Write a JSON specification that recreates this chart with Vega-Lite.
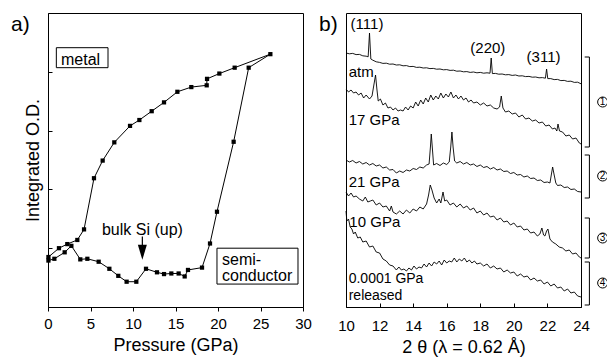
{
  "$schema": "https://vega.github.io/schema/vega-lite/v6.json",
  "padding": {"left": 10, "top": 12, "right": 0, "bottom": 0},
  "bounds": "flush",
  "spacing": 43,
  "config": {
    "font": "Liberation Sans",
    "view": {"stroke": "#000", "strokeWidth": 1},
    "axis": {"grid": false, "labelFlush": false, "domainColor": "#000", "tickColor": "#000", "labelColor": "#000", "titleColor": "#000", "labelFontSize": 15, "titleFontSize": 18, "titleFontWeight": "normal", "labelFont": "Liberation Sans", "titleFont": "Liberation Sans"},
    "text": {"font": "Liberation Sans", "color": "#000"}
  },
  "datasets": {
    "pa": [
      {"i":1,"x":0.05,"y":0.79},{"i":2,"x":0.75,"y":0.82},{"i":3,"x":1.96,"y":0.93},{"i":4,"x":2.75,"y":1.04},{"i":5,"x":3.80,"y":0.81},{"i":6,"x":4.63,"y":0.82},{"i":7,"x":5.96,"y":0.77},{"i":8,"x":7.22,"y":0.65},{"i":9,"x":8.27,"y":0.53},{"i":10,"x":9.25,"y":0.43},{"i":11,"x":10.39,"y":0.43},{"i":12,"x":11.53,"y":0.65},{"i":13,"x":12.82,"y":0.59},{"i":14,"x":13.65,"y":0.56},{"i":15,"x":14.51,"y":0.57},{"i":16,"x":15.37,"y":0.57},{"i":17,"x":16.08,"y":0.52},{"i":18,"x":16.47,"y":0.63},{"i":19,"x":18.12,"y":0.67},{"i":20,"x":19.06,"y":1.08},{"i":21,"x":19.88,"y":1.62},{"i":22,"x":21.84,"y":2.81},{"i":23,"x":23.61,"y":4.07},{"i":24,"x":26.16,"y":4.30},
      {"i":25,"x":21.96,"y":4.07},{"i":26,"x":20.16,"y":3.97},{"i":27,"x":18.71,"y":3.88},{"i":28,"x":18.67,"y":3.77},{"i":29,"x":16.86,"y":3.74},{"i":30,"x":15.22,"y":3.66},{"i":31,"x":13.65,"y":3.48},{"i":32,"x":12.20,"y":3.33},{"i":33,"x":10.75,"y":3.18},{"i":34,"x":9.65,"y":3.08},{"i":35,"x":7.80,"y":2.80},{"i":36,"x":6.43,"y":2.49},{"i":37,"x":5.41,"y":2.19},{"i":38,"x":4.24,"y":1.32},{"i":39,"x":3.45,"y":1.14},{"i":40,"x":2.27,"y":1.07},{"i":41,"x":1.29,"y":1.00},{"i":42,"x":0.05,"y":0.85}
    ],
    "pa_txt": [
      {"x":1.53,"y":4.12,"label":"metal"},
      {"x":6.35,"y":1.23,"label":"bulk Si (up)"},
      {"x":20.47,"y":0.706,"label":"semi-\nconductor"}
    ],
    "pa_box": [
      {"x":0.98,"x2":7.06,"y":4.41,"y2":4.07},
      {"x":19.88,"x2":29.41,"y":1.0,"y2":0.39}
    ],
    "pa_lab": [{"x":-4.35,"y":4.69,"label":"a)"}],
    "pa_arrow": [{"x":11.1,"y":1.20,"y2":0.98}],
    "pa_head": [{"x":11.1,"y":0.93}],
    "pb": [
      {"s":"atm","x":10.0,"y":254.0},{"s":"atm","x":10.2,"y":253.2},{"s":"atm","x":10.4,"y":253.6},{"s":"atm","x":10.6,"y":252.4},{"s":"atm","x":10.8,"y":252.6},{"s":"atm","x":11.0,"y":251.2},{"s":"atm","x":11.2,"y":250.8},{"s":"atm","x":11.32,"y":250.2},{"s":"atm","x":11.4,"y":274.0},{"s":"atm","x":11.48,"y":248.0},{"s":"atm","x":11.6,"y":246.8},{"s":"atm","x":11.8,"y":245.2},{"s":"atm","x":12.0,"y":244.6},{"s":"atm","x":12.2,"y":243.6},{"s":"atm","x":12.4,"y":243.8},{"s":"atm","x":12.6,"y":242.8},{"s":"atm","x":12.8,"y":243.0},{"s":"atm","x":13.0,"y":242.0},{"s":"atm","x":13.2,"y":242.2},{"s":"atm","x":13.4,"y":241.2},{"s":"atm","x":13.6,"y":241.4},{"s":"atm","x":13.8,"y":240.4},{"s":"atm","x":14.0,"y":240.6},{"s":"atm","x":14.2,"y":239.6},{"s":"atm","x":14.4,"y":239.8},{"s":"atm","x":14.6,"y":239.0},{"s":"atm","x":14.8,"y":239.2},{"s":"atm","x":15.0,"y":238.4},{"s":"atm","x":15.2,"y":238.6},{"s":"atm","x":15.4,"y":237.8},{"s":"atm","x":15.6,"y":238.0},{"s":"atm","x":15.8,"y":237.2},{"s":"atm","x":16.0,"y":237.4},{"s":"atm","x":16.2,"y":236.6},{"s":"atm","x":16.4,"y":236.8},{"s":"atm","x":16.6,"y":235.8},{"s":"atm","x":16.8,"y":236.0},{"s":"atm","x":17.0,"y":235.2},{"s":"atm","x":17.2,"y":235.4},{"s":"atm","x":17.4,"y":234.6},{"s":"atm","x":17.6,"y":235.0},{"s":"atm","x":17.8,"y":234.2},{"s":"atm","x":18.0,"y":234.6},{"s":"atm","x":18.2,"y":233.8},{"s":"atm","x":18.4,"y":234.2},{"s":"atm","x":18.58,"y":233.8},{"s":"atm","x":18.65,"y":249.0},{"s":"atm","x":18.72,"y":233.4},{"s":"atm","x":18.9,"y":233.6},{"s":"atm","x":19.1,"y":232.8},{"s":"atm","x":19.3,"y":233.0},{"s":"atm","x":19.5,"y":232.2},{"s":"atm","x":19.7,"y":232.4},{"s":"atm","x":19.9,"y":231.6},{"s":"atm","x":20.1,"y":232.0},{"s":"atm","x":20.3,"y":231.0},{"s":"atm","x":20.5,"y":231.2},{"s":"atm","x":20.7,"y":230.4},{"s":"atm","x":20.9,"y":230.6},{"s":"atm","x":21.1,"y":229.8},{"s":"atm","x":21.3,"y":230.0},{"s":"atm","x":21.5,"y":229.2},{"s":"atm","x":21.7,"y":229.4},{"s":"atm","x":21.88,"y":228.8},{"s":"atm","x":21.95,"y":238.0},{"s":"atm","x":22.02,"y":228.4},{"s":"atm","x":22.2,"y":228.4},{"s":"atm","x":22.4,"y":227.4},{"s":"atm","x":22.6,"y":227.6},{"s":"atm","x":22.8,"y":226.4},{"s":"atm","x":23.0,"y":226.6},{"s":"atm","x":23.2,"y":225.6},{"s":"atm","x":23.4,"y":225.8},{"s":"atm","x":23.6,"y":224.6},{"s":"atm","x":23.8,"y":224.8},{"s":"atm","x":24.0,"y":223.2},
      {"s":"p17","x":10.0,"y":218},{"s":"p17","x":10.15,"y":215},{"s":"p17","x":10.3,"y":217},{"s":"p17","x":10.45,"y":214},{"s":"p17","x":10.6,"y":215},{"s":"p17","x":10.75,"y":212},{"s":"p17","x":10.9,"y":214},{"s":"p17","x":11.05,"y":209},{"s":"p17","x":11.2,"y":212},{"s":"p17","x":11.4,"y":208},{"s":"p17","x":11.55,"y":211},{"s":"p17","x":11.68,"y":224},{"s":"p17","x":11.76,"y":232},{"s":"p17","x":11.84,"y":218},{"s":"p17","x":11.92,"y":206},{"s":"p17","x":12.05,"y":208},{"s":"p17","x":12.2,"y":202},{"s":"p17","x":12.35,"y":204},{"s":"p17","x":12.5,"y":199},{"s":"p17","x":12.65,"y":200},{"s":"p17","x":12.8,"y":197},{"s":"p17","x":12.95,"y":199},{"s":"p17","x":13.1,"y":196},{"s":"p17","x":13.25,"y":197},{"s":"p17","x":13.4,"y":196},{"s":"p17","x":13.55,"y":200},{"s":"p17","x":13.7,"y":197},{"s":"p17","x":13.85,"y":201},{"s":"p17","x":14.0,"y":199},{"s":"p17","x":14.15,"y":205},{"s":"p17","x":14.3,"y":201},{"s":"p17","x":14.45,"y":207},{"s":"p17","x":14.6,"y":203},{"s":"p17","x":14.75,"y":209},{"s":"p17","x":14.9,"y":205},{"s":"p17","x":15.05,"y":212},{"s":"p17","x":15.2,"y":207},{"s":"p17","x":15.35,"y":211},{"s":"p17","x":15.5,"y":208},{"s":"p17","x":15.65,"y":214},{"s":"p17","x":15.8,"y":209},{"s":"p17","x":15.95,"y":213},{"s":"p17","x":16.1,"y":210},{"s":"p17","x":16.25,"y":215},{"s":"p17","x":16.4,"y":209},{"s":"p17","x":16.55,"y":212},{"s":"p17","x":16.7,"y":208},{"s":"p17","x":16.85,"y":211},{"s":"p17","x":17.0,"y":207},{"s":"p17","x":17.15,"y":209},{"s":"p17","x":17.3,"y":205},{"s":"p17","x":17.45,"y":207},{"s":"p17","x":17.6,"y":204},{"s":"p17","x":17.8,"y":205},{"s":"p17","x":18.0,"y":202},{"s":"p17","x":18.2,"y":204},{"s":"p17","x":18.4,"y":201},{"s":"p17","x":18.6,"y":202},{"s":"p17","x":18.8,"y":199},{"s":"p17","x":19.0,"y":198},{"s":"p17","x":19.15,"y":200},{"s":"p17","x":19.25,"y":211},{"s":"p17","x":19.35,"y":199},{"s":"p17","x":19.5,"y":195},{"s":"p17","x":19.7,"y":196},{"s":"p17","x":19.9,"y":193},{"s":"p17","x":20.1,"y":194},{"s":"p17","x":20.3,"y":190},{"s":"p17","x":20.5,"y":192},{"s":"p17","x":20.7,"y":188},{"s":"p17","x":20.9,"y":189},{"s":"p17","x":21.1,"y":186},{"s":"p17","x":21.3,"y":187},{"s":"p17","x":21.5,"y":184},{"s":"p17","x":21.7,"y":185},{"s":"p17","x":21.9,"y":181},{"s":"p17","x":22.1,"y":182},{"s":"p17","x":22.3,"y":178},{"s":"p17","x":22.45,"y":179},{"s":"p17","x":22.56,"y":176},{"s":"p17","x":22.63,"y":183},{"s":"p17","x":22.72,"y":176},{"s":"p17","x":22.9,"y":175},{"s":"p17","x":23.1,"y":171},{"s":"p17","x":23.3,"y":172},{"s":"p17","x":23.5,"y":168},{"s":"p17","x":23.7,"y":169},{"s":"p17","x":23.9,"y":164},{"s":"p17","x":24.0,"y":163},
      {"s":"p21","x":10.0,"y":147},{"s":"p21","x":10.2,"y":145},{"s":"p21","x":10.4,"y":146.5},{"s":"p21","x":10.6,"y":144},{"s":"p21","x":10.8,"y":145.5},{"s":"p21","x":11.0,"y":143},{"s":"p21","x":11.2,"y":144.5},{"s":"p21","x":11.4,"y":142},{"s":"p21","x":11.6,"y":143.5},{"s":"p21","x":11.8,"y":141},{"s":"p21","x":12.0,"y":142},{"s":"p21","x":12.2,"y":139},{"s":"p21","x":12.4,"y":140},{"s":"p21","x":12.6,"y":137},{"s":"p21","x":12.8,"y":137.5},{"s":"p21","x":13.0,"y":134},{"s":"p21","x":13.2,"y":136},{"s":"p21","x":13.4,"y":134.5},{"s":"p21","x":13.6,"y":137},{"s":"p21","x":13.8,"y":136},{"s":"p21","x":14.0,"y":138.5},{"s":"p21","x":14.2,"y":137.5},{"s":"p21","x":14.4,"y":140},{"s":"p21","x":14.6,"y":139},{"s":"p21","x":14.8,"y":142},{"s":"p21","x":14.95,"y":143},{"s":"p21","x":15.03,"y":160},{"s":"p21","x":15.08,"y":173},{"s":"p21","x":15.14,"y":160},{"s":"p21","x":15.22,"y":142},{"s":"p21","x":15.4,"y":143.5},{"s":"p21","x":15.6,"y":141.5},{"s":"p21","x":15.8,"y":144},{"s":"p21","x":16.0,"y":142.5},{"s":"p21","x":16.15,"y":145},{"s":"p21","x":16.24,"y":160},{"s":"p21","x":16.31,"y":175},{"s":"p21","x":16.38,"y":160},{"s":"p21","x":16.47,"y":146},{"s":"p21","x":16.6,"y":144},{"s":"p21","x":16.8,"y":145.5},{"s":"p21","x":17.0,"y":143},{"s":"p21","x":17.2,"y":144.5},{"s":"p21","x":17.4,"y":142},{"s":"p21","x":17.6,"y":143},{"s":"p21","x":17.8,"y":140.5},{"s":"p21","x":18.0,"y":142},{"s":"p21","x":18.2,"y":139.5},{"s":"p21","x":18.4,"y":140.5},{"s":"p21","x":18.6,"y":138},{"s":"p21","x":18.8,"y":139.5},{"s":"p21","x":19.0,"y":137},{"s":"p21","x":19.2,"y":138},{"s":"p21","x":19.4,"y":135.5},{"s":"p21","x":19.6,"y":136},{"s":"p21","x":19.8,"y":133.5},{"s":"p21","x":20.0,"y":134.5},{"s":"p21","x":20.2,"y":132},{"s":"p21","x":20.4,"y":132.5},{"s":"p21","x":20.6,"y":130},{"s":"p21","x":20.8,"y":131},{"s":"p21","x":21.0,"y":128.5},{"s":"p21","x":21.2,"y":129},{"s":"p21","x":21.4,"y":126.5},{"s":"p21","x":21.6,"y":127},{"s":"p21","x":21.8,"y":124.5},{"s":"p21","x":22.0,"y":125},{"s":"p21","x":22.15,"y":124},{"s":"p21","x":22.23,"y":132},{"s":"p21","x":22.31,"y":140},{"s":"p21","x":22.39,"y":133},{"s":"p21","x":22.5,"y":124},{"s":"p21","x":22.6,"y":121.5},{"s":"p21","x":22.8,"y":122},{"s":"p21","x":23.0,"y":119.5},{"s":"p21","x":23.2,"y":120},{"s":"p21","x":23.4,"y":117.5},{"s":"p21","x":23.6,"y":118},{"s":"p21","x":23.8,"y":115.5},{"s":"p21","x":24.0,"y":115},
      {"s":"p10","x":10.0,"y":115},{"s":"p10","x":10.15,"y":111},{"s":"p10","x":10.3,"y":114},{"s":"p10","x":10.45,"y":110},{"s":"p10","x":10.6,"y":111},{"s":"p10","x":10.8,"y":108},{"s":"p10","x":11.0,"y":106},{"s":"p10","x":11.15,"y":110},{"s":"p10","x":11.3,"y":105},{"s":"p10","x":11.45,"y":106},{"s":"p10","x":11.6,"y":107},{"s":"p10","x":11.8,"y":102},{"s":"p10","x":12.0,"y":104},{"s":"p10","x":12.2,"y":100},{"s":"p10","x":12.4,"y":101},{"s":"p10","x":12.6,"y":96},{"s":"p10","x":12.7,"y":101},{"s":"p10","x":12.8,"y":95},{"s":"p10","x":13.0,"y":93},{"s":"p10","x":13.2,"y":96},{"s":"p10","x":13.4,"y":93},{"s":"p10","x":13.6,"y":97},{"s":"p10","x":13.8,"y":94},{"s":"p10","x":14.0,"y":98},{"s":"p10","x":14.2,"y":96},{"s":"p10","x":14.4,"y":100},{"s":"p10","x":14.6,"y":98},{"s":"p10","x":14.8,"y":103},{"s":"p10","x":14.92,"y":112},{"s":"p10","x":15.02,"y":122},{"s":"p10","x":15.12,"y":117},{"s":"p10","x":15.25,"y":109},{"s":"p10","x":15.4,"y":104},{"s":"p10","x":15.55,"y":108},{"s":"p10","x":15.65,"y":104},{"s":"p10","x":15.78,"y":115},{"s":"p10","x":15.88,"y":106},{"s":"p10","x":16.0,"y":107},{"s":"p10","x":16.2,"y":102},{"s":"p10","x":16.4,"y":104},{"s":"p10","x":16.6,"y":100},{"s":"p10","x":16.8,"y":103},{"s":"p10","x":17.0,"y":99},{"s":"p10","x":17.2,"y":101},{"s":"p10","x":17.4,"y":97},{"s":"p10","x":17.6,"y":99},{"s":"p10","x":17.8,"y":94},{"s":"p10","x":18.0,"y":96},{"s":"p10","x":18.2,"y":92},{"s":"p10","x":18.4,"y":94},{"s":"p10","x":18.6,"y":90},{"s":"p10","x":18.8,"y":91},{"s":"p10","x":19.0,"y":87},{"s":"p10","x":19.2,"y":89},{"s":"p10","x":19.4,"y":85},{"s":"p10","x":19.6,"y":86},{"s":"p10","x":19.8,"y":82},{"s":"p10","x":20.0,"y":84},{"s":"p10","x":20.2,"y":80},{"s":"p10","x":20.4,"y":81},{"s":"p10","x":20.6,"y":77},{"s":"p10","x":20.8,"y":78},{"s":"p10","x":21.0,"y":74},{"s":"p10","x":21.2,"y":75},{"s":"p10","x":21.4,"y":71},{"s":"p10","x":21.55,"y":73},{"s":"p10","x":21.67,"y":79},{"s":"p10","x":21.77,"y":72},{"s":"p10","x":21.85,"y":71},{"s":"p10","x":21.95,"y":76},{"s":"p10","x":22.03,"y":78},{"s":"p10","x":22.15,"y":68},{"s":"p10","x":22.3,"y":65},{"s":"p10","x":22.5,"y":63},{"s":"p10","x":22.7,"y":60},{"s":"p10","x":22.9,"y":59},{"s":"p10","x":23.1,"y":56},{"s":"p10","x":23.3,"y":57},{"s":"p10","x":23.5,"y":53},{"s":"p10","x":23.7,"y":54},{"s":"p10","x":23.9,"y":50},{"s":"p10","x":24.0,"y":49},
      {"s":"rel","x":10.0,"y":96},{"s":"rel","x":10.05,"y":86},{"s":"rel","x":10.15,"y":88},{"s":"rel","x":10.25,"y":80},{"s":"rel","x":10.35,"y":78},{"s":"rel","x":10.45,"y":73},{"s":"rel","x":10.55,"y":75},{"s":"rel","x":10.7,"y":69},{"s":"rel","x":10.85,"y":70},{"s":"rel","x":11.0,"y":65},{"s":"rel","x":11.2,"y":66},{"s":"rel","x":11.4,"y":60},{"s":"rel","x":11.6,"y":61},{"s":"rel","x":11.8,"y":55},{"s":"rel","x":12.0,"y":54},{"s":"rel","x":12.2,"y":48},{"s":"rel","x":12.4,"y":46},{"s":"rel","x":12.6,"y":42},{"s":"rel","x":12.8,"y":41},{"s":"rel","x":13.0,"y":37},{"s":"rel","x":13.15,"y":40},{"s":"rel","x":13.3,"y":37},{"s":"rel","x":13.45,"y":38},{"s":"rel","x":13.6,"y":36},{"s":"rel","x":13.75,"y":39},{"s":"rel","x":13.9,"y":37},{"s":"rel","x":14.05,"y":41},{"s":"rel","x":14.2,"y":38},{"s":"rel","x":14.35,"y":40},{"s":"rel","x":14.5,"y":39},{"s":"rel","x":14.65,"y":43},{"s":"rel","x":14.8,"y":40},{"s":"rel","x":14.95,"y":44},{"s":"rel","x":15.1,"y":41},{"s":"rel","x":15.25,"y":45},{"s":"rel","x":15.4,"y":43},{"s":"rel","x":15.55,"y":46},{"s":"rel","x":15.7,"y":42},{"s":"rel","x":15.85,"y":47},{"s":"rel","x":16.0,"y":44},{"s":"rel","x":16.15,"y":46},{"s":"rel","x":16.3,"y":45},{"s":"rel","x":16.45,"y":49},{"s":"rel","x":16.6,"y":45},{"s":"rel","x":16.75,"y":48},{"s":"rel","x":16.9,"y":46},{"s":"rel","x":17.05,"y":49},{"s":"rel","x":17.2,"y":45},{"s":"rel","x":17.35,"y":47},{"s":"rel","x":17.5,"y":44},{"s":"rel","x":17.65,"y":46},{"s":"rel","x":17.8,"y":43},{"s":"rel","x":18.0,"y":44},{"s":"rel","x":18.2,"y":41},{"s":"rel","x":18.4,"y":43},{"s":"rel","x":18.6,"y":39},{"s":"rel","x":18.8,"y":41},{"s":"rel","x":19.0,"y":38},{"s":"rel","x":19.2,"y":39},{"s":"rel","x":19.4,"y":35},{"s":"rel","x":19.6,"y":37},{"s":"rel","x":19.8,"y":34},{"s":"rel","x":20.0,"y":35},{"s":"rel","x":20.2,"y":31},{"s":"rel","x":20.4,"y":33},{"s":"rel","x":20.6,"y":30},{"s":"rel","x":20.8,"y":31},{"s":"rel","x":21.0,"y":27},{"s":"rel","x":21.2,"y":29},{"s":"rel","x":21.4,"y":26},{"s":"rel","x":21.6,"y":27},{"s":"rel","x":21.8,"y":23},{"s":"rel","x":22.0,"y":25},{"s":"rel","x":22.2,"y":21},{"s":"rel","x":22.4,"y":23},{"s":"rel","x":22.6,"y":19},{"s":"rel","x":22.8,"y":20},{"s":"rel","x":23.0,"y":16},{"s":"rel","x":23.2,"y":18},{"s":"rel","x":23.4,"y":14},{"s":"rel","x":23.6,"y":15},{"s":"rel","x":23.8,"y":11},{"s":"rel","x":24.0,"y":10}
    ],
    "pb_txt": [
      {"x":10.16,"y":230,"label":"atm"},
      {"x":10.16,"y":182,"label":"17 GPa"},
      {"x":10.16,"y":120,"label":"21 GPa"},
      {"x":10.2,"y":80,"label":"10 GPa"}
    ],
    "pb_rel": [
      {"x":10.16,"y":24,"label":"0.0001 GPa\nreleased"}
    ],
    "pb_hkl": [
      {"x":11.25,"y":278,"label":"(111)"},
      {"x":18.45,"y":254.5,"label":"(220)"},
      {"x":21.77,"y":245,"label":"(311)"}
    ],
    "pb_lab": [{"x":8.39,"y":276,"label":"b)"}],
    "pb_br": [
      {"x":24.5,"x2":24.5,"y":250,"y2":160},{"x":24.22,"x2":24.5,"y":250,"y2":250},{"x":24.22,"x2":24.5,"y":160,"y2":160},
      {"x":24.5,"x2":24.5,"y":152,"y2":109},{"x":24.22,"x2":24.5,"y":152,"y2":152},{"x":24.22,"x2":24.5,"y":109,"y2":109},
      {"x":24.5,"x2":24.5,"y":89,"y2":49},{"x":24.22,"x2":24.5,"y":89,"y2":89},{"x":24.22,"x2":24.5,"y":49,"y2":49},
      {"x":24.5,"x2":24.5,"y":45,"y2":2},{"x":24.22,"x2":24.5,"y":45,"y2":45},{"x":24.22,"x2":24.5,"y":2,"y2":2}
    ],
    "pb_circ": [
      {"x":25.29,"y":205,"label":"1"},
      {"x":25.29,"y":131,"label":"2"},
      {"x":25.29,"y":69,"label":"3"},
      {"x":25.29,"y":24,"label":"4"}
    ]
  },
  "hconcat": [
    {
      "width": 255,
      "height": 294,
      "encoding": {
        "x": {"field": "x", "type": "quantitative", "scale": {"domain": [0, 30], "nice": false, "zero": false},
              "axis": {"values": [0, 5, 10, 15, 20, 25, 30], "tickSize": 4, "labelPadding": 5, "title": "Pressure (GPa)", "titlePadding": 5}},
        "y": {"field": "y", "type": "quantitative", "scale": {"domain": [0, 5], "nice": false, "zero": false},
              "axis": {"values": [1, 2, 3, 4], "tickSize": -4, "labels": false, "title": "Integrated O.D.", "titlePadding": 5}}
      },
      "layer": [
        {"data": {"name": "pa"}, "mark": {"type": "line", "color": "#000", "strokeWidth": 1}, "encoding": {"order": {"field": "i", "type": "quantitative"}}},
        {"data": {"name": "pa"}, "mark": {"type": "point", "shape": "square", "filled": true, "color": "#000", "size": 18, "opacity": 1}, "encoding": {}},
        {"data": {"name": "pa_box"}, "mark": {"type": "rect", "fill": "#fff", "stroke": "#000", "strokeWidth": 1}, "encoding": {"x2": {"field": "x2"}, "y2": {"field": "y2"}}},
        {"data": {"name": "pa_txt"}, "mark": {"type": "text", "align": "left", "baseline": "alphabetic", "fontSize": 16, "lineBreak": "\n", "lineHeight": 16, "color": "#000"}, "encoding": {"text": {"field": "label"}}},
        {"data": {"name": "pa_lab"}, "mark": {"type": "text", "align": "left", "baseline": "alphabetic", "fontSize": 21, "color": "#000"}, "encoding": {"text": {"field": "label"}}},
        {"data": {"name": "pa_arrow"}, "mark": {"type": "rule", "color": "#000", "strokeWidth": 1.2}, "encoding": {"y2": {"field": "y2"}}},
        {"data": {"name": "pa_head"}, "mark": {"type": "point", "shape": "M-0.6,-1L0.6,-1L0,1Z", "filled": true, "color": "#000", "size": 225, "opacity": 1}, "encoding": {}}
      ]
    },
    {
      "width": 235,
      "height": 294,
      "encoding": {
        "x": {"field": "x", "type": "quantitative", "scale": {"domain": [10, 24], "nice": false, "zero": false},
              "axis": {"values": [10, 12, 14, 16, 18, 20, 22, 24], "tickSize": -4, "labelPadding": 15, "title": "2 θ (λ = 0.62 Å)", "titlePadding": 5}},
        "y": {"field": "y", "type": "quantitative", "scale": {"domain": [0, 294], "nice": false, "zero": false}, "axis": null}
      },
      "layer": [
        {"data": {"name": "pb"}, "mark": {"type": "line", "color": "#000", "strokeWidth": 0.9}, "encoding": {"detail": {"field": "s"}}},
        {"data": {"name": "pb_txt"}, "mark": {"type": "text", "align": "left", "baseline": "alphabetic", "fontSize": 15, "color": "#000"}, "encoding": {"text": {"field": "label"}}},
        {"data": {"name": "pb_rel"}, "mark": {"type": "text", "align": "left", "baseline": "alphabetic", "fontSize": 14, "lineBreak": "\n", "lineHeight": 17, "color": "#000"}, "encoding": {"text": {"field": "label"}}},
        {"data": {"name": "pb_hkl"}, "mark": {"type": "text", "align": "center", "baseline": "alphabetic", "fontSize": 15, "color": "#000"}, "encoding": {"text": {"field": "label"}}},
        {"data": {"name": "pb_lab"}, "mark": {"type": "text", "align": "left", "baseline": "alphabetic", "fontSize": 21, "color": "#000"}, "encoding": {"text": {"field": "label"}}},
        {"data": {"name": "pb_br"}, "mark": {"type": "rule", "color": "#000", "strokeWidth": 1}, "encoding": {"x2": {"field": "x2"}, "y2": {"field": "y2"}}},
        {"data": {"name": "pb_circ"}, "mark": {"type": "point", "shape": "circle", "filled": false, "color": "#000", "size": 100, "strokeWidth": 1, "opacity": 1}, "encoding": {}},
        {"data": {"name": "pb_circ"}, "mark": {"type": "text", "align": "center", "baseline": "middle", "fontSize": 10, "color": "#000"}, "encoding": {"text": {"field": "label"}}}
      ]
    }
  ]
}
